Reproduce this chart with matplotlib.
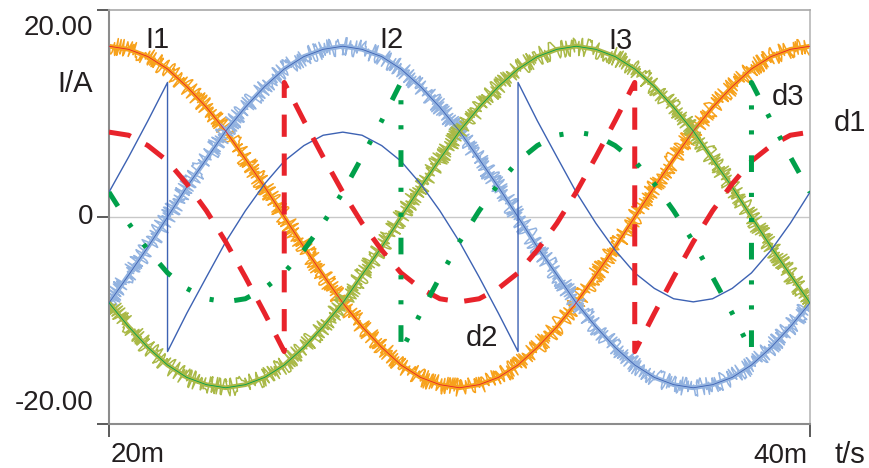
## three phase currents I1..I3 (measured + ideal) and modulation signals d1..d3
import numpy as np
import matplotlib
matplotlib.use("Agg")
import matplotlib.pyplot as plt

plt.rcParams['font.family'] = ['Liberation Sans', 'DejaVu Sans']
plt.rcParams['lines.scale_dashes'] = False

# time in ms, one sample every 10 degrees of the 50 Hz period
t = [20.00, 20.56, 21.11, 21.67, 22.22, 22.78, 23.33, 23.89, 24.44, 25.00,
     25.56, 26.11, 26.67, 27.22, 27.78, 28.33, 28.89, 29.44, 30.00, 30.56,
     31.11, 31.67, 32.22, 32.78, 33.33, 33.89, 34.44, 35.00, 35.56, 36.11,
     36.67, 37.22, 37.78, 38.33, 38.89, 39.44, 40.00]

# phase currents (A)
i1 = [16.5, 16.2, 15.5, 14.3, 12.6, 10.6, 8.3, 5.6, 2.9, 0.0,
      -2.9, -5.6, -8.3, -10.6, -12.6, -14.3, -15.5, -16.2, -16.5, -16.2,
      -15.5, -14.3, -12.6, -10.6, -8.3, -5.6, -2.9, 0.0, 2.9, 5.6,
      8.3, 10.6, 12.6, 14.3, 15.5, 16.2, 16.5]
i2 = [-8.3, -5.6, -2.9, 0.0, 2.9, 5.6, 8.3, 10.6, 12.6, 14.3,
      15.5, 16.2, 16.5, 16.2, 15.5, 14.3, 12.6, 10.6, 8.3, 5.6,
      2.9, 0.0, -2.9, -5.6, -8.3, -10.6, -12.6, -14.3, -15.5, -16.2,
      -16.5, -16.2, -15.5, -14.3, -12.6, -10.6, -8.3]
i3 = [-8.3, -10.6, -12.6, -14.3, -15.5, -16.2, -16.5, -16.2, -15.5, -14.3,
      -12.6, -10.6, -8.3, -5.6, -2.9, 0.0, 2.9, 5.6, 8.3, 10.6,
      12.6, 14.3, 15.5, 16.2, 16.5, 16.2, 15.5, 14.3, 12.6, 10.6,
      8.3, 5.6, 2.9, 0.0, -2.9, -5.6, -8.3]

# modulation signals, the sample at a jump is listed twice (before / after)
d1 = [8.2, 7.9, 6.9, 5.4, 3.2, 0.6, -2.4, -5.8, -9.3, -13.0,
      13.0, 9.3, 5.8, 2.4, -0.6, -3.2, -5.4, -6.9, -7.9, -8.2,
      -7.9, -6.9, -5.4, -3.2, -0.6, 2.4, 5.8, 9.3, 13.0, -13.0,
      -9.3, -5.8, -2.4, 0.6, 3.2, 5.4, 6.9, 7.9, 8.2]
d1_jumps = [9, 27]
d2 = [2.4, 5.8, 9.3, 13.0, -13.0, -9.3, -5.8, -2.4, 0.6, 3.2,
      5.4, 6.9, 7.9, 8.2, 7.9, 6.9, 5.4, 3.2, 0.6, -2.4,
      -5.8, -9.3, -13.0, 13.0, 9.3, 5.8, 2.4, -0.6, -3.2, -5.4,
      -6.9, -7.9, -8.2, -7.9, -6.9, -5.4, -3.2, -0.6, 2.4]
d2_jumps = [3, 21]
d3 = [2.4, -0.6, -3.2, -5.4, -6.9, -7.9, -8.2, -7.9, -6.9, -5.4,
      -3.2, -0.6, 2.4, 5.8, 9.3, 13.0, -13.0, -9.3, -5.8, -2.4,
      0.6, 3.2, 5.4, 6.9, 7.9, 8.2, 7.9, 6.9, 5.4, 3.2,
      0.6, -2.4, -5.8, -9.3, -13.0, 13.0, 9.3, 5.8, 2.4]
d3_jumps = [15, 33]

orange = '#f7a21c'
lightblue = '#93b3e0'
olive = '#aab947'
red = '#e8232b'
green = '#00a04a'
blue = '#3d62b3'
txt = '#231f20'


def jump_time(jumps):
    return np.insert(np.array(t), jumps, [t[j] for j in jumps])


fig = plt.figure(figsize=(8.7, 4.68), dpi=100)
ax = fig.add_axes([109 / 870, 1 - 424 / 468, 701 / 870, 414 / 468])
ax.set_xlim(20, 40)
ax.set_ylim(-20, 20)

ax.axhline(0, color='#c8c8c8', lw=1, zorder=0)

# measured (noisy) currents: a solid core plus a jagged sketch line
for y, c in [(i1, orange), (i2, lightblue), (i3, olive)]:
    ax.plot(t, y, color=c, lw=3.4, zorder=2)
    ln, = ax.plot(t, y, color=c, lw=1.1, zorder=2)
    ln.set_sketch_params(scale=9, length=0.6, randomness=40)

# ideal currents
ax.plot(t, i1, color=red, lw=0.6, zorder=3)
ax.plot(t, i2, color=blue, lw=0.6, zorder=3)
ax.plot(t, i3, color=green, lw=0.6, zorder=3)

# modulation signals
ax.plot(jump_time(d2_jumps), d2, color=blue, lw=1.0, zorder=4)
ax.plot(jump_time(d1_jumps), d1, color=red, lw=3.6, dashes=(16, 12),
        dash_capstyle='butt', zorder=5)
ax.plot(jump_time(d3_jumps), d3, color=green, lw=3.6,
        dashes=(12, 15, 3, 15, 3, 15), dash_capstyle='butt', zorder=5)

# axes styling
ax.spines['left'].set_color('#8c8c8c')
ax.spines['left'].set_linewidth(1.5)
ax.spines['bottom'].set_color('#8c8c8c')
ax.spines['bottom'].set_linewidth(1.5)
ax.spines['top'].set_color('#a8a8a8')
ax.spines['top'].set_linewidth(1.2)
ax.spines['right'].set_color('#b8b8b8')
ax.spines['right'].set_linewidth(1.2)

ax.set_xticks([20, 40], ['', ''])
ax.set_yticks([-20, 0, 20], ['', '', ''])
ax.tick_params(axis='y', length=8.6, width=1.2, color='#404040')
ax.tick_params(axis='x', length=9.4, width=1.2, color='#404040')

# tick labels (placed by hand, the end labels sit inside the range)
for val, lab, dy in [(20, '20.00', -13), (0, '0', 0), (-20, '-20.00', 15)]:
    ax.annotate(lab, xy=(0, val), xycoords=('axes fraction', 'data'),
                xytext=(-11.5, dy), textcoords='offset points',
                ha='right', va='center', fontsize=20, color=txt)
ax.annotate('20m', xy=(20, 0), xycoords=('data', 'axes fraction'),
            xytext=(1.5, -22.5), textcoords='offset points',
            ha='left', va='center', fontsize=20, color=txt)
ax.annotate('40m', xy=(40, 0), xycoords=('data', 'axes fraction'),
            xytext=(-1.5, -23), textcoords='offset points',
            ha='right', va='center', fontsize=20, color=txt)

fig.text(75 / 870, 1 - 84 / 468, 'I/A', ha='center', va='center', fontsize=21, color=txt)
fig.text(850 / 870, 1 - 455 / 468, 't/s', ha='center', va='center', fontsize=21, color=txt)
fig.text(850 / 870, 1 - 123 / 468, 'd1', ha='center', va='center', fontsize=21, color=txt)

ax.text(21.38, 17.1, 'I1', ha='center', va='center', fontsize=21, color=txt, zorder=6)
ax.text(28.07, 17.1, 'I2', ha='center', va='center', fontsize=21, color=txt, zorder=6)
ax.text(34.58, 17.0, 'I3', ha='center', va='center', fontsize=21, color=txt, zorder=6)
ax.text(39.37, 11.6, 'd3', ha='center', va='center', fontsize=21, color=txt, zorder=6)
ax.text(30.64, -11.7, 'd2', ha='center', va='center', fontsize=21, color=txt, zorder=6)

fig.savefig('out.png', dpi=100)
